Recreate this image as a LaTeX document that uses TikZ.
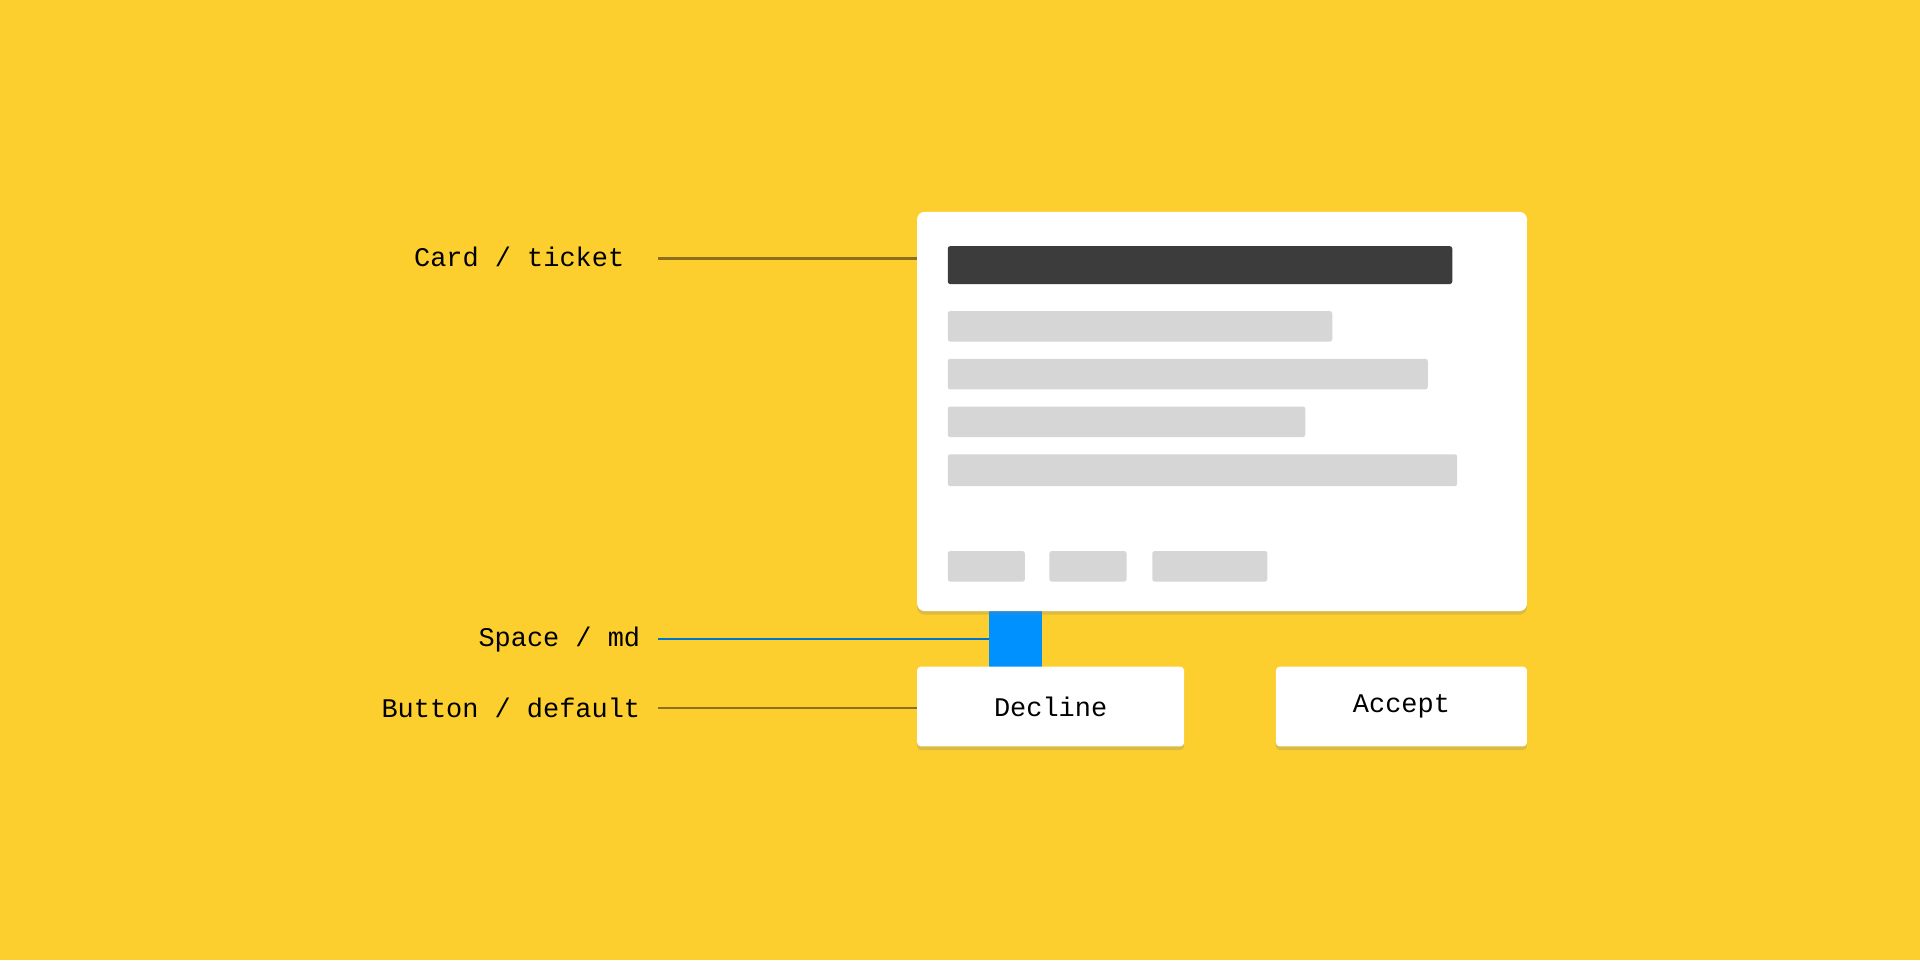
\documentclass[tikz,border=0pt]{standalone}
\usepackage{fontspec}
\setmonofont{Liberation Mono}
\usetikzlibrary{shadows}
\definecolor{cBg}{HTML}{FCCF2E}
\definecolor{cDark}{HTML}{3C3C3C}
\definecolor{cGrey}{HTML}{D6D6D6}
\definecolor{cBlue}{HTML}{0091FF}
\definecolor{cLine}{HTML}{8C6E1E}
\tikzset{mycard/.style={
  draw=none,
  fill=white,
  rounded corners=6pt,
  drop shadow={shadow xshift=0pt, shadow yshift=-3pt, opacity=0.25},
  }
}
\tikzset{mybar/.style={
  fill=cGrey,
  rounded corners=2pt,
  }
}
\tikzset{mylabel/.style={
  anchor=east,
  font=\ttfamily\fontsize{22}{26}\selectfont,
  text=black,
  inner sep=0pt,
  }
}
\tikzset{myline/.style={
  line width=2pt,
  draw=cLine,
  }
}
\begin{document}
\begin{tikzpicture}[x=1pt,y=-1pt]
      \fill[cBg] (0,0) rectangle (1568,784);
      \useasboundingbox (0,0) rectangle (1568,784);
      % spacing block
      \fill[cBlue] (808,495) rectangle (851,548);
      % card
      \path[mycard] (749,173) rectangle (1247,499);
      \coordinate (card) at (749,211);
      \fill[cDark, rounded corners=2pt] (774,201) rectangle (1186,232);
      \fill[mybar] (774,254) rectangle (1088,279);
      \fill[mybar] (774,293) rectangle (1166,318);
      \fill[mybar] (774,332) rectangle (1066,357);
      \fill[mybar] (774,371) rectangle (1190,397);
      \foreach \xa/\xb in {774/837, 857/920, 941/1035}
        \fill[mybar] (\xa,450) rectangle (\xb,475);
      % buttons
      \node[mycard, rounded corners=3pt, minimum width=218pt, minimum height=65pt,
        font=\ttfamily\fontsize{22}{26}\selectfont] (decline) at (858,577) {Decline};
      \node[mycard, rounded corners=3pt, minimum width=205pt, minimum height=65pt,
        font=\ttfamily\fontsize{22}{26}\selectfont] (accept) at (1144.5,577) {Accept};
      \coordinate (space) at (808,522);
      % labels
      \node[mylabel] (lcard) at (510,210) {Card / ticket};
      \node[mylabel] (lspace) at (523,522) {Space / md};
      \node[mylabel] (lbutton) at (523,578) {Button / default};
      \draw[myline] (537,211) -- (card);
      \draw[myline, draw=cBlue!80!black] (537,522) -- (space);
      \draw[myline] (537,578) -- (decline.west |- 0,578);
    \end{tikzpicture}
\end{document}
